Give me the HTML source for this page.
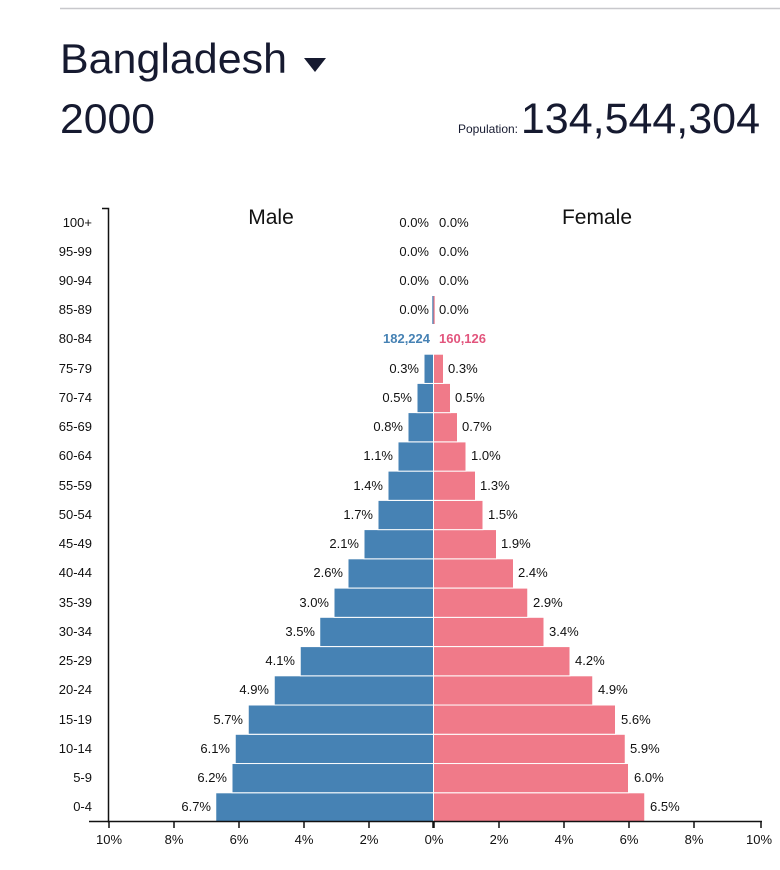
<!DOCTYPE html>
<html><head><meta charset="utf-8"><style>
body{margin:0;background:#fff;width:780px;height:870px;overflow:hidden}
svg{display:block}
text{font-family:"Liberation Sans",Arial,sans-serif}
.h{fill:#161a30}
.l{font-size:13px;fill:#111}
.y{font-size:13px;fill:#111;text-anchor:end}
.m{fill:#4682b4;stroke:#fff;stroke-width:1}
.f{fill:#f07a89;stroke:#fff;stroke-width:1}
</style></head><body>
<svg width="780" height="870" viewBox="0 0 780 870">
<line x1="60" y1="8.5" x2="780" y2="8.5" stroke="#c8c8cc" stroke-width="1.5"/>
<text class="h" x="60" y="73" font-size="42" textLength="227" lengthAdjust="spacingAndGlyphs">Bangladesh</text>
<path d="M304 58 L326 58 L315 72 Z" fill="#161a30"/>
<text class="h" x="60" y="133" font-size="42" textLength="95" lengthAdjust="spacingAndGlyphs">2000</text>
<text class="h" x="518" y="133" font-size="12" text-anchor="end">Population:</text>
<text class="h" x="760" y="133" font-size="43" text-anchor="end">134,544,304</text>
<text x="271" y="224" font-size="21" text-anchor="middle" fill="#111">Male</text>
<text x="597" y="224" font-size="21" text-anchor="middle" fill="#111">Female</text>

<g>
<rect class="m" x="215.75" y="792.8" width="217.75" height="29.24"/><rect class="f" x="433.5" y="792.8" width="211.25" height="29.24"/>
<rect class="m" x="232" y="763.5" width="201.5" height="29.24"/><rect class="f" x="433.5" y="763.5" width="195" height="29.24"/>
<rect class="m" x="235.25" y="734.3" width="198.25" height="29.24"/><rect class="f" x="433.5" y="734.3" width="191.75" height="29.24"/>
<rect class="m" x="248.25" y="705" width="185.25" height="29.24"/><rect class="f" x="433.5" y="705" width="182" height="29.24"/>
<rect class="m" x="274.25" y="675.8" width="159.25" height="29.24"/><rect class="f" x="433.5" y="675.8" width="159.25" height="29.24"/>
<rect class="m" x="300.25" y="646.6" width="133.25" height="29.24"/><rect class="f" x="433.5" y="646.6" width="136.5" height="29.24"/>
<rect class="m" x="319.75" y="617.3" width="113.75" height="29.24"/><rect class="f" x="433.5" y="617.3" width="110.5" height="29.24"/>
<rect class="m" x="334" y="588.1" width="99.5" height="29.24"/><rect class="f" x="433.5" y="588.1" width="94.25" height="29.24"/>
<rect class="m" x="348" y="558.8" width="85.5" height="29.24"/><rect class="f" x="433.5" y="558.8" width="80" height="29.24"/>
<rect class="m" x="364" y="529.6" width="69.5" height="29.24"/><rect class="f" x="433.5" y="529.6" width="63" height="29.24"/>
<rect class="m" x="378" y="500.4" width="55.5" height="29.24"/><rect class="f" x="433.5" y="500.4" width="49.5" height="29.24"/>
<rect class="m" x="388" y="471.1" width="45.5" height="29.24"/><rect class="f" x="433.5" y="471.1" width="42" height="29.24"/>
<rect class="m" x="398" y="441.9" width="35.5" height="29.24"/><rect class="f" x="433.5" y="441.9" width="32.5" height="29.24"/>
<rect class="m" x="408" y="412.6" width="25.5" height="29.24"/><rect class="f" x="433.5" y="412.6" width="24" height="29.24"/>
<rect class="m" x="417" y="383.4" width="16.5" height="29.24"/><rect class="f" x="433.5" y="383.4" width="17" height="29.24"/>
<rect class="m" x="424" y="354.2" width="9.5" height="29.24"/><rect class="f" x="433.5" y="354.2" width="10" height="29.24"/>
<rect x="432.3" y="296" width="1.2" height="28" fill="#4682b4"/><rect x="433.5" y="296" width="1.2" height="28" fill="#f07a89"/>
</g>

<g class="l">
<text x="211" y="811" text-anchor="end">6.7%</text><text x="650" y="811">6.5%</text>
<text x="227" y="782" text-anchor="end">6.2%</text><text x="634" y="782">6.0%</text>
<text x="230" y="753" text-anchor="end">6.1%</text><text x="630" y="753">5.9%</text>
<text x="243" y="724" text-anchor="end">5.7%</text><text x="621" y="724">5.6%</text>
<text x="269" y="694" text-anchor="end">4.9%</text><text x="598" y="694">4.9%</text>
<text x="295" y="665" text-anchor="end">4.1%</text><text x="575" y="665">4.2%</text>
<text x="315" y="636" text-anchor="end">3.5%</text><text x="549" y="636">3.4%</text>
<text x="329" y="607" text-anchor="end">3.0%</text><text x="533" y="607">2.9%</text>
<text x="343" y="577" text-anchor="end">2.6%</text><text x="518" y="577">2.4%</text>
<text x="359" y="548" text-anchor="end">2.1%</text><text x="501" y="548">1.9%</text>
<text x="373" y="519" text-anchor="end">1.7%</text><text x="488" y="519">1.5%</text>
<text x="383" y="490" text-anchor="end">1.4%</text><text x="480" y="490">1.3%</text>
<text x="393" y="460" text-anchor="end">1.1%</text><text x="471" y="460">1.0%</text>
<text x="403" y="431" text-anchor="end">0.8%</text><text x="462" y="431">0.7%</text>
<text x="412" y="402" text-anchor="end">0.5%</text><text x="455" y="402">0.5%</text>
<text x="419" y="373" text-anchor="end">0.3%</text><text x="448" y="373">0.3%</text>
<text x="430" y="343" text-anchor="end" font-weight="bold" style="fill:#4682b4">182,224</text>
<text x="439" y="343" font-weight="bold" style="fill:#e2557d">160,126</text>
<text x="429" y="314" text-anchor="end">0.0%</text><text x="439" y="314">0.0%</text>
<text x="429" y="285" text-anchor="end">0.0%</text><text x="439" y="285">0.0%</text>
<text x="429" y="256" text-anchor="end">0.0%</text><text x="439" y="256">0.0%</text>
<text x="429" y="227" text-anchor="end">0.0%</text><text x="439" y="227">0.0%</text>
</g>

<g stroke="#111" stroke-width="1.5" fill="none">
<path d="M102 208.5 H108.5 V822.5"/>
</g>
<g class="y">
<text x="92" y="811">0-4</text>
<text x="92" y="782">5-9</text>
<text x="92" y="753">10-14</text>
<text x="92" y="724">15-19</text>
<text x="92" y="694">20-24</text>
<text x="92" y="665">25-29</text>
<text x="92" y="636">30-34</text>
<text x="92" y="607">35-39</text>
<text x="92" y="577">40-44</text>
<text x="92" y="548">45-49</text>
<text x="92" y="519">50-54</text>
<text x="92" y="490">55-59</text>
<text x="92" y="460">60-64</text>
<text x="92" y="431">65-69</text>
<text x="92" y="402">70-74</text>
<text x="92" y="373">75-79</text>
<text x="92" y="343">80-84</text>
<text x="92" y="314">85-89</text>
<text x="92" y="285">90-94</text>
<text x="92" y="256">95-99</text>
<text x="92" y="227">100+</text>
</g>

<g stroke="#111" stroke-width="1.5">
<line x1="89" y1="821.5" x2="762" y2="821.5"/>
<line x1="109" y1="821" x2="109" y2="828"/>
<line x1="174" y1="821" x2="174" y2="828"/>
<line x1="239" y1="821" x2="239" y2="828"/>
<line x1="304" y1="821" x2="304" y2="828"/>
<line x1="369" y1="821" x2="369" y2="828"/>
<line x1="433.5" y1="821" x2="433.5" y2="828" stroke-width="2.5"/>
<line x1="499" y1="821" x2="499" y2="828"/>
<line x1="564" y1="821" x2="564" y2="828"/>
<line x1="629" y1="821" x2="629" y2="828"/>
<line x1="694" y1="821" x2="694" y2="828"/>
<line x1="761" y1="821" x2="761" y2="828"/>
</g>
<g font-size="13" fill="#111" text-anchor="middle">
<text x="109" y="844">10%</text>
<text x="174" y="844">8%</text>
<text x="239" y="844">6%</text>
<text x="304" y="844">4%</text>
<text x="369" y="844">2%</text>
<text x="434" y="844">0%</text>
<text x="499" y="844">2%</text>
<text x="564" y="844">4%</text>
<text x="629" y="844">6%</text>
<text x="694" y="844">8%</text>
<text x="759" y="844">10%</text>
</g>
</svg>
</body></html>
